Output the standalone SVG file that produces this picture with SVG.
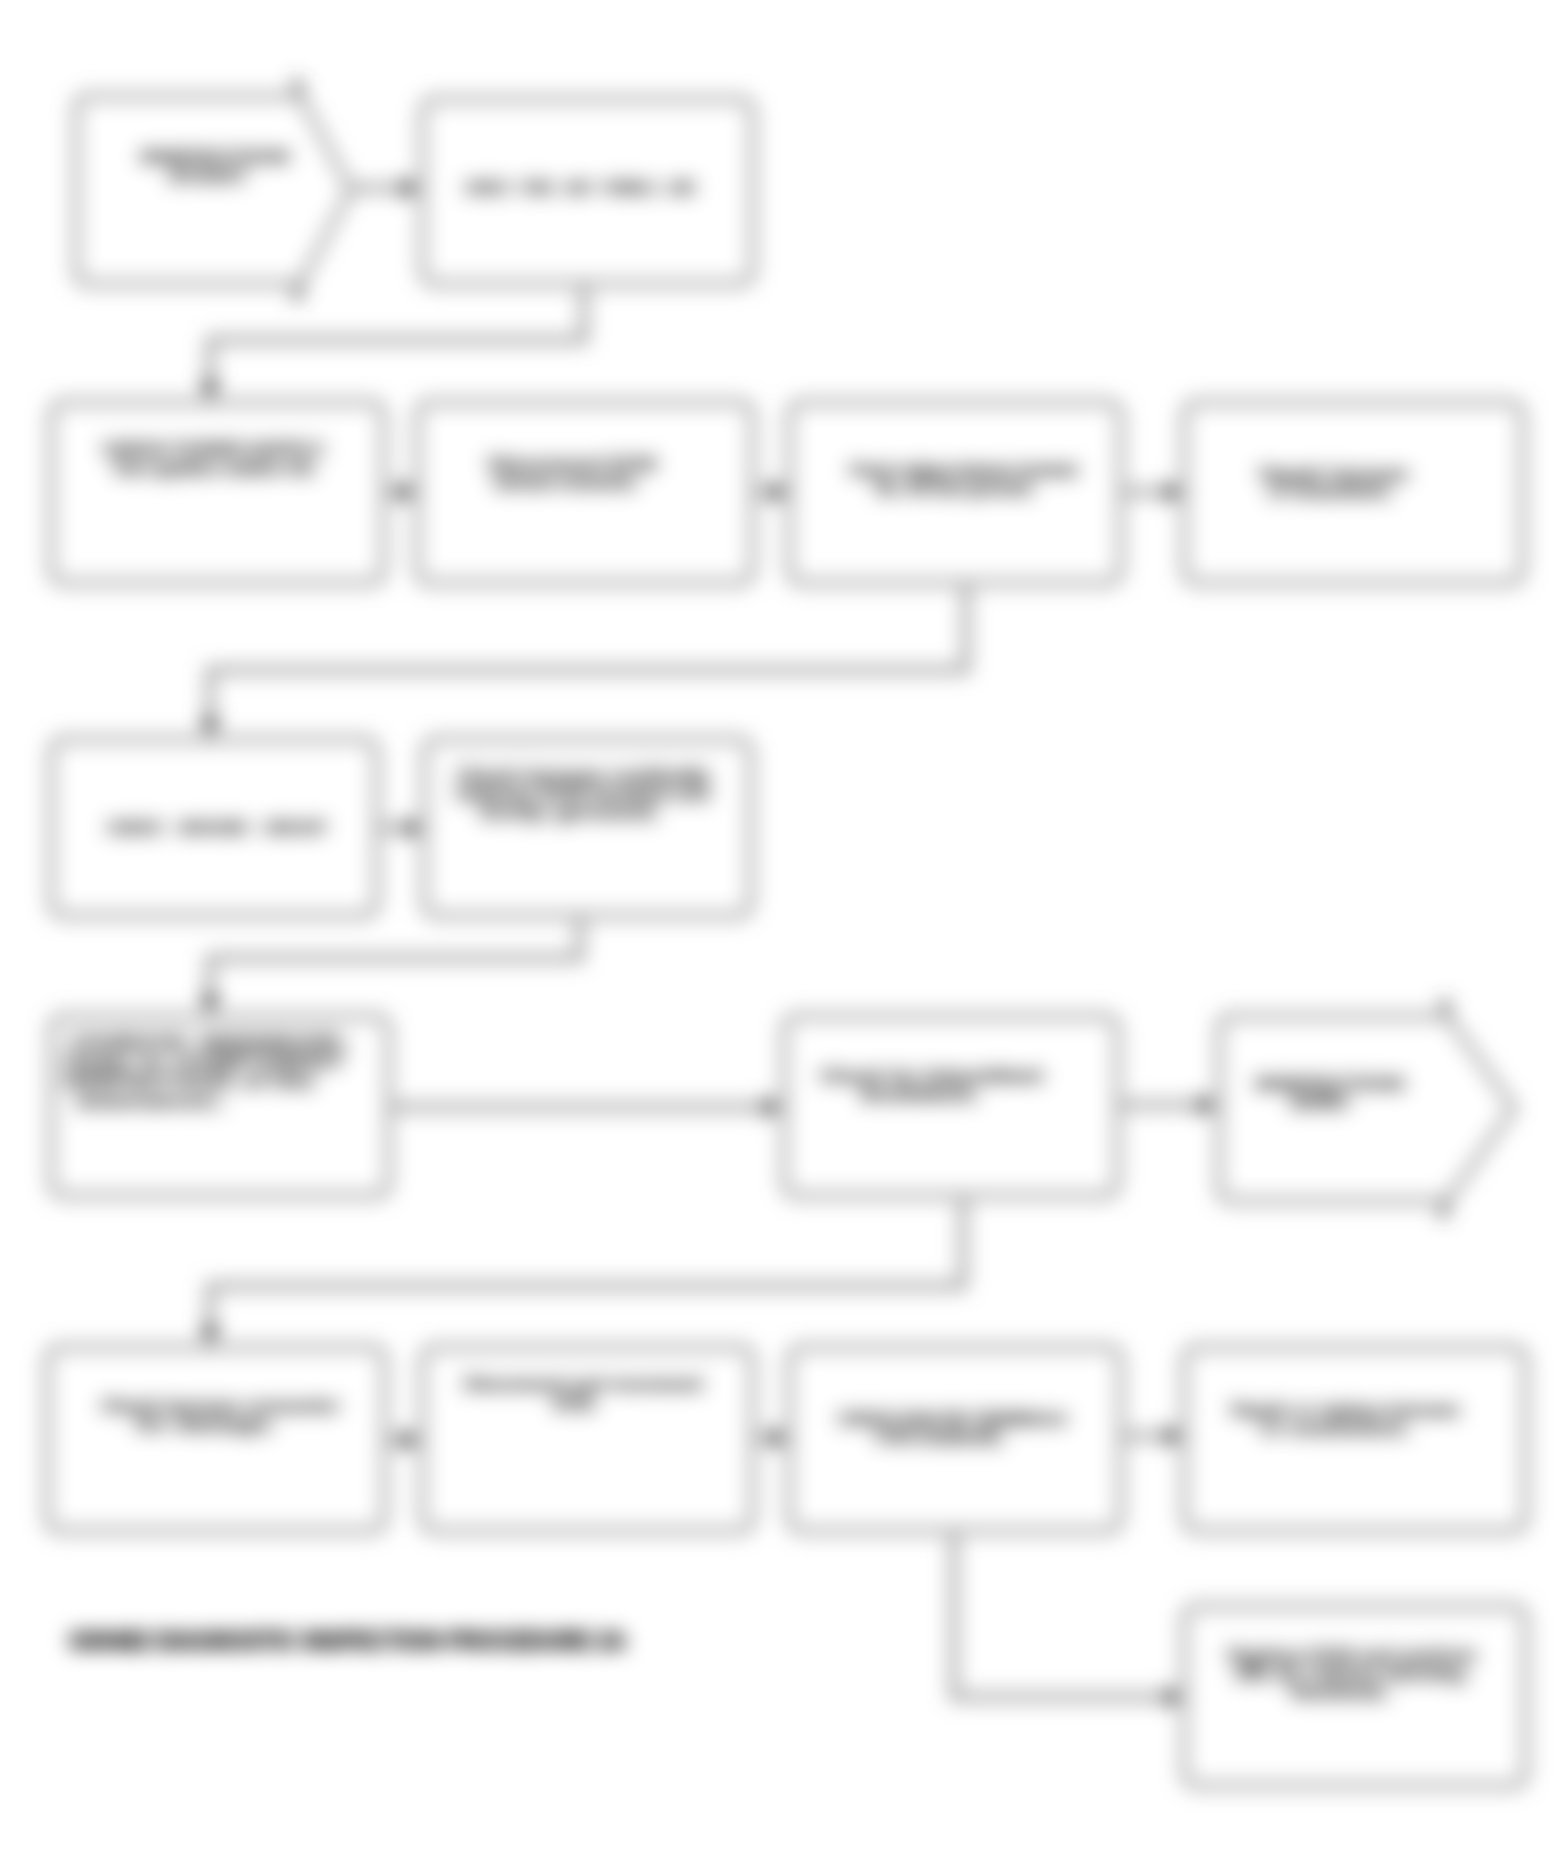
<svg xmlns="http://www.w3.org/2000/svg" width="1566" height="1865" viewBox="0 0 1566 1865">
<defs>
<filter id="soft" filterUnits="userSpaceOnUse" x="0" y="0" width="1566" height="1865">
<feGaussianBlur stdDeviation="10"/>
</filter>
<marker id="arr" markerUnits="userSpaceOnUse" markerWidth="22" markerHeight="20" refX="20" refY="10" orient="auto">
<path d="M0,0 L22,10 L0,20 Z" fill="#333"/>
</marker>
</defs>
<style>
.box{fill:#fff;stroke:#929292;stroke-width:7.5}
.tick{fill:none;stroke:#444;stroke-width:8}
.con{fill:none;stroke:#929292;stroke-width:7.5;marker-end:url(#arr)}
.t{font-family:"Liberation Sans",Arial,sans-serif;font-weight:bold;font-size:18px;fill:#000;stroke:#000;stroke-width:2;text-anchor:middle}
.cap{font-family:"Liberation Sans",Arial,sans-serif;font-weight:bold;font-size:23px;fill:#000;stroke:#000;stroke-width:1.2}
</style>
<rect x="0" y="0" width="1566" height="1865" fill="#fff"/>
<g filter="url(#soft)">
<g id="connectors">
<path class="con" d="M350,188 H421"/>
<path class="con" d="M584,283 V340 H210 V401"/>
<path class="con" d="M383,492 H418"/>
<path class="con" d="M752,492 H790"/>
<path class="con" d="M1120,492 H1185"/>
<path class="con" d="M966,582 V670 H210 V738"/>
<path class="con" d="M376,828 H425"/>
<path class="con" d="M580,915 V958 H210 V1015"/>
<path class="con" d="M388,1107 H783"/>
<path class="con" d="M1117,1105 H1218"/>
<path class="con" d="M963,1195 V1286 H210 V1346"/>
<path class="con" d="M384,1440 H421"/>
<path class="con" d="M752,1438 H790"/>
<path class="con" d="M1120,1436 H1185"/>
<path class="con" d="M954,1530 V1697 H1185"/>
</g>
<g id="n-start">
<path class="box" d="M89,97 H300 L350,190 L300,283 H89 Q77,283 77,271 V109 Q77,97 89,97 Z"/>
<path class="tick" d="M300,97 L296,80 M300,283 L296,300"/>
<text class="t" x="215" y="163" textLength="150" lengthAdjust="spacingAndGlyphs">INSPECTION</text>
<text class="t" x="208" y="183" textLength="80" lengthAdjust="spacingAndGlyphs">START</text>
</g>
<g id="n-fuse">
<rect class="box" x="423" y="100" width="329" height="183" rx="12"/>
<text class="t" x="580" y="194" textLength="232" lengthAdjust="spacingAndGlyphs" word-spacing="10">CHECK FUSE AND FUSIBLE LINK</text>
</g>
<g id="n-power">
<rect class="box" x="52" y="403" width="331" height="179" rx="12"/>
<text class="t" x="214" y="455" textLength="225" lengthAdjust="spacingAndGlyphs">CHECK POWER SUPPLY.</text>
<text class="t" x="214" y="475" textLength="205" lengthAdjust="spacingAndGlyphs">Turn ignition switch ON.</text>
</g>
<g id="n-disconnect">
<rect class="box" x="418" y="403" width="334" height="179" rx="12"/>
<text class="t" x="572" y="470" textLength="170" lengthAdjust="spacingAndGlyphs">Disconnect ECM</text>
<text class="t" x="566" y="489" textLength="145" lengthAdjust="spacingAndGlyphs">harness connector.</text>
</g>
<g id="n-voltage">
<rect class="box" x="790" y="403" width="330" height="179" rx="12"/>
<text class="t" x="963" y="476" textLength="230" lengthAdjust="spacingAndGlyphs">Check voltage between terminal</text>
<text class="t" x="955" y="495" textLength="160" lengthAdjust="spacingAndGlyphs">No. 58 and ground.</text>
</g>
<g id="n-repair1">
<rect class="box" x="1185" y="403" width="337" height="179" rx="12"/>
<text class="t" x="1334" y="480" textLength="150" lengthAdjust="spacingAndGlyphs">Repair harness</text>
<text class="t" x="1330" y="498" textLength="125" lengthAdjust="spacingAndGlyphs">or connectors.</text>
</g>
<g id="n-ground">
<rect class="box" x="52" y="740" width="324" height="175" rx="12"/>
<text class="t" x="217" y="834" textLength="222" lengthAdjust="spacingAndGlyphs" word-spacing="10">CHECK GROUND CIRCUIT</text>
</g>
<g id="n-continuity">
<rect class="box" x="425" y="740" width="325" height="175" rx="12"/>
<text class="t" x="583" y="781" textLength="255" lengthAdjust="spacingAndGlyphs">Check harness continuity</text>
<text class="t" x="583" y="800" textLength="255" lengthAdjust="spacingAndGlyphs">between ECM terminal and</text>
<text class="t" x="570" y="819" textLength="180" lengthAdjust="spacingAndGlyphs">body ground.</text>
</g>
<g id="n-sensor">
<rect class="box" x="52" y="1017" width="336" height="178" rx="12"/>
<text class="t" x="210" y="1048" textLength="280" lengthAdjust="spacingAndGlyphs">CHECK SENSOR.</text>
<text class="t" x="205" y="1068" textLength="280" lengthAdjust="spacingAndGlyphs">Refer to COMPONENT</text>
<text class="t" x="190" y="1088" textLength="250" lengthAdjust="spacingAndGlyphs">INSPECTION of the</text>
<text class="t" x="150" y="1108" textLength="150" lengthAdjust="spacingAndGlyphs">sensor.</text>
</g>
<g id="n-intermittent">
<rect class="box" x="785" y="1017" width="332" height="178" rx="12"/>
<text class="t" x="931" y="1082" textLength="224" lengthAdjust="spacingAndGlyphs">Check for intermittent</text>
<text class="t" x="920" y="1101" textLength="120" lengthAdjust="spacingAndGlyphs">incident.</text>
</g>
<g id="n-end">
<path class="box" d="M1232,1017 H1447 L1513,1108 L1447,1200 H1232 Q1220,1200 1220,1188 V1029 Q1220,1017 1232,1017 Z"/>
<path class="tick" d="M1447,1017 L1444,1000 M1447,1200 L1441,1217"/>
<text class="t" x="1330" y="1090" textLength="150" lengthAdjust="spacingAndGlyphs">INSPECTION</text>
<text class="t" x="1320" y="1109" textLength="60" lengthAdjust="spacingAndGlyphs">END</text>
</g>
<g id="n-connector">
<rect class="box" x="48" y="1348" width="336" height="182" rx="12"/>
<text class="t" x="220" y="1412" textLength="240" lengthAdjust="spacingAndGlyphs">Check harness connector</text>
<text class="t" x="205" y="1431" textLength="140" lengthAdjust="spacingAndGlyphs">for damage.</text>
</g>
<g id="n-reconnect">
<rect class="box" x="423" y="1348" width="329" height="182" rx="12"/>
<text class="t" x="583" y="1390" textLength="240" lengthAdjust="spacingAndGlyphs">Disconnect and reconnect</text>
<text class="t" x="575" y="1410" textLength="45" lengthAdjust="spacingAndGlyphs">ECM.</text>
</g>
<g id="n-pins">
<rect class="box" x="790" y="1348" width="330" height="182" rx="12"/>
<text class="t" x="952" y="1425" textLength="230" lengthAdjust="spacingAndGlyphs">CHECK ECM PIN TERMINALS</text>
<text class="t" x="940" y="1444" textLength="130" lengthAdjust="spacingAndGlyphs">FOR DAMAGE.</text>
</g>
<g id="n-repair2">
<rect class="box" x="1185" y="1348" width="340" height="182" rx="12"/>
<text class="t" x="1345" y="1416" textLength="230" lengthAdjust="spacingAndGlyphs">Repair or replace harness</text>
<text class="t" x="1335" y="1435" textLength="150" lengthAdjust="spacingAndGlyphs">or connectors.</text>
</g>
<g id="n-replace">
<rect class="box" x="1185" y="1607" width="340" height="178" rx="12"/>
<text class="t" x="1352" y="1661" textLength="250" lengthAdjust="spacingAndGlyphs">Replace ECM and perform</text>
<text class="t" x="1352" y="1680" textLength="235" lengthAdjust="spacingAndGlyphs">idle air volume learning.</text>
<text class="t" x="1340" y="1699" textLength="100" lengthAdjust="spacingAndGlyphs">Recheck.</text>
</g>
<g id="caption">
<text class="cap" x="69" y="1649" textLength="557" lengthAdjust="spacingAndGlyphs">G00482 DIAGNOSTIC INSPECTION PROCEDURE 2A</text>
</g>
</g>
</svg>
